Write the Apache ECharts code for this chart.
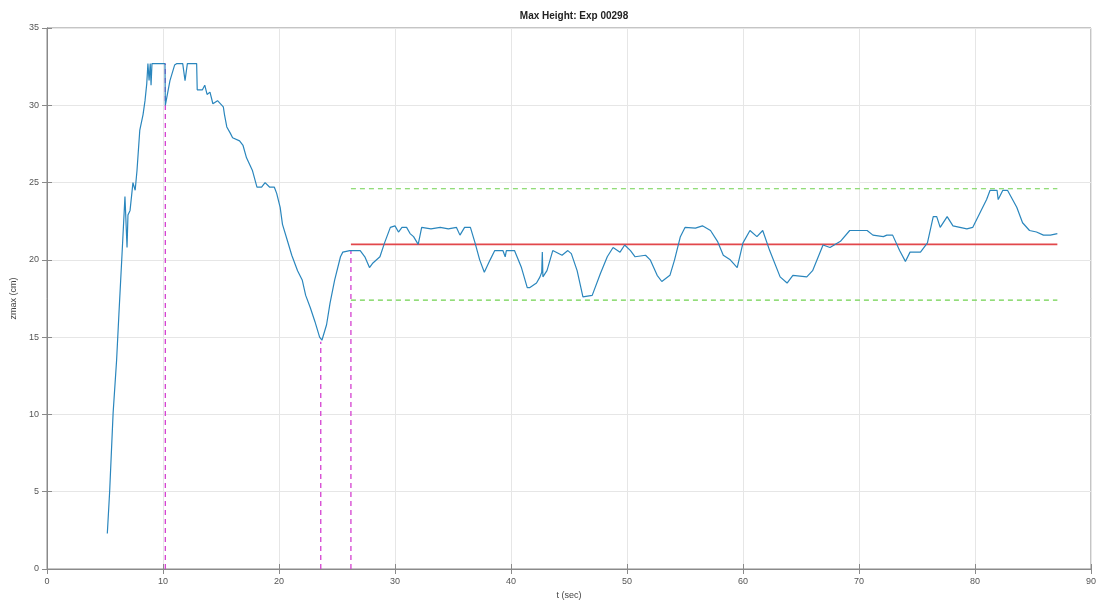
<!DOCTYPE html>
<html>
<head>
<meta charset="utf-8">
<script src="https://cdn.jsdelivr.net/npm/echarts@6/dist/echarts.min.js"></script>
<style>
  html, body { margin: 0; padding: 0; background: #fff; }
  #chart { width: 1104px; height: 611px; }
</style>
</head>
<body>
<div id="chart"></div>
<script>
// Measured max water height over time
const timeSec = [
  5.2, 5.4, 5.7, 6.0, 6.2, 6.47, 6.72, 6.9, 6.98, 7.16, 7.41, 7.6, 7.76, 8.0, 8.28, 8.45, 8.6, 8.7, 8.8, 8.9, 8.97, 9.05, 9.2,
  10.17, 10.2, 10.6, 11.0, 11.2, 11.7, 11.9, 12.1, 12.9, 12.95, 13.4, 13.6, 13.8, 14.05, 14.3, 14.7, 15.2, 15.3, 15.5, 15.8,
  16.0, 16.6, 16.9, 17.2, 17.7, 18.1, 18.5, 18.8, 19.2, 19.6, 19.8, 20.1, 20.3, 20.7, 21.1, 21.6, 22.0, 22.3, 22.7, 23.1,
  23.5, 23.7, 24.1, 24.4, 24.8, 25.3, 25.5, 26.1, 27.0, 27.4, 27.8, 28.1, 28.7, 29.1, 29.6, 30.0, 30.3, 30.6, 31.0, 31.3,
  31.6, 32.0, 32.3, 33.1, 33.9, 34.6, 35.3, 35.6, 36.0, 36.5, 36.9, 37.3, 37.7, 38.2, 38.6, 39.3, 39.5, 39.6, 40.3, 40.9,
  41.4, 41.6, 42.2, 42.5, 42.65, 42.7, 42.75, 43.1, 43.6, 44.4, 44.9, 45.2, 45.7, 46.2, 47.0, 47.7, 48.3, 48.8, 49.4, 49.8,
  50.3, 50.7, 51.6, 52.0, 52.6, 53.0, 53.7, 54.1, 54.6, 55.0, 55.9, 56.5, 57.2, 57.8, 58.3, 58.9, 59.5, 60.0, 60.6, 61.2,
  61.7, 62.3, 63.2, 63.8, 64.3, 65.5, 66.0, 66.9, 67.5, 68.4, 69.2, 70.1, 70.7, 71.2, 72.1, 72.4, 72.9, 73.5, 74.0, 74.4,
  75.3, 75.9, 76.4, 76.7, 77.0, 77.6, 78.1, 79.3, 79.8, 80.4, 81.0, 81.3, 81.9, 82.0, 82.4, 82.8, 83.6, 84.1, 84.7, 85.3,
  85.9, 86.5, 87.1
];
const zmaxCm = [
  2.3, 5.0, 10.1, 13.5, 16.5, 20.4, 24.1, 20.8, 22.9, 23.2, 25.0, 24.5, 25.8, 28.4, 29.4, 30.3, 31.4, 32.7, 31.6, 32.7, 31.3, 32.7, 32.7,
  32.7, 30.0, 31.6, 32.6, 32.7, 32.7, 31.6, 32.7, 32.7, 31.0, 31.0, 31.3, 30.7, 30.85, 30.1, 30.3, 29.9, 29.4, 28.6, 28.2,
  27.9, 27.7, 27.4, 26.6, 25.8, 24.7, 24.7, 25.0, 24.7, 24.7, 24.3, 23.4, 22.3, 21.3, 20.3, 19.3, 18.7, 17.7, 16.9, 16.0,
  15.0, 14.8, 15.8, 17.2, 18.7, 20.2, 20.5, 20.6, 20.6, 20.2, 19.5, 19.8, 20.2, 21.1, 22.1, 22.2, 21.8, 22.1, 22.1, 21.7,
  21.5, 21.0, 22.1, 22.0, 22.1, 22.0, 22.1, 21.6, 22.1, 22.1, 21.1, 20.0, 19.2, 20.0, 20.6, 20.6, 20.2, 20.6, 20.6, 19.5,
  18.2, 18.2, 18.5, 18.9, 19.2, 20.5, 18.9, 19.3, 20.6, 20.3, 20.6, 20.4, 19.3, 17.6, 17.7, 19.1, 20.2, 20.8, 20.5, 20.96,
  20.6, 20.2, 20.3, 20.0, 19.0, 18.6, 19.0, 20.0, 21.5, 22.1, 22.05, 22.2, 21.9, 21.2, 20.3, 20.0, 19.5, 21.1, 21.9, 21.5,
  21.9, 20.6, 18.9, 18.5, 19.0, 18.9, 19.3, 20.96, 20.8, 21.2, 21.9, 21.9, 21.9, 21.6, 21.5, 21.6, 21.6, 20.6, 19.9, 20.5,
  20.5, 21.1, 22.8, 22.8, 22.1, 22.8, 22.2, 22.0, 22.1, 23.0, 23.9, 24.5, 24.5, 23.9, 24.5, 24.5, 23.4, 22.4, 21.9, 21.8,
  21.6, 21.6, 21.7
];

// Event markers (dashed verticals from the axis up to the curve)
const eventTimes = [10.2, 23.6, 26.2];
const eventHeights = [32.7, 14.7, 20.6];

// Steady-state band
const bandStart = 26.2;
const bandEnd = 87.1;
const meanLevel = 21.0;
const upperLevel = 24.6;
const lowerLevel = 17.4;

// Axis ticks
const xTicks = [0, 10, 20, 30, 40, 50, 60, 70, 80, 90];
const yTicks = [0, 5, 10, 15, 20, 25, 30, 35];

const curve = timeSec.map((t, i) => [t, zmaxCm[i]]);

const eventSeries = eventTimes.map((t, i) => ({
  type: 'line',
  data: [[t, 0], [t, eventHeights[i]]],
  symbol: 'none',
  lineStyle: { color: '#d43fd0', width: 1.3, type: [5, 4] },
  z: 3
}));

const bandLine = (level, color, dashed, width) => ({
  type: 'line',
  data: [[bandStart, level], [bandEnd, level]],
  symbol: 'none',
  lineStyle: { color: color, width: width, type: dashed ? [5, 4] : 'solid' },
  z: 2
});

const gridColor = '#e6e6e6';
const axisColor = '#8a8a8a';
const labelStyle = { color: '#555', fontSize: 9, fontFamily: 'Liberation Sans, Arial, sans-serif' };

const chart = echarts.init(document.getElementById('chart'), null, { renderer: 'canvas' });
chart.setOption({
  animation: false,
  backgroundColor: '#fff',
  title: {
    text: 'Max Height: Exp 00298',
    left: 569, top: 6, textAlign: 'center',
    textStyle: { fontSize: 10, fontWeight: 'bold', color: '#222', fontFamily: 'Liberation Sans, Arial, sans-serif' }
  },
  grid: { left: 47, right: 13, top: 28, bottom: 42, show: true, borderColor: axisColor, borderWidth: 1 },
  xAxis: [{
    type: 'value', min: 0, max: 90, interval: 10,
    name: 't (sec)', nameLocation: 'middle', nameGap: 20,
    nameTextStyle: { color: '#444', fontSize: 9, fontFamily: 'Liberation Sans, Arial, sans-serif' },
    axisLine: { show: true, lineStyle: { color: axisColor } },
    axisTick: { show: true, inside: true, length: 5, lineStyle: { color: axisColor } },
    axisLabel: Object.assign({ margin: 8, formatter: v => xTicks.includes(v) ? String(v) : '' }, labelStyle),
    splitLine: { show: true, lineStyle: { color: gridColor, width: 1 } }
  }, {
    type: 'value', min: 0, max: 90, interval: 10, position: 'top',
    axisLine: { show: true, lineStyle: { color: axisColor } },
    axisTick: { show: true, inside: true, length: 5, lineStyle: { color: axisColor } },
    axisLabel: { show: false }, splitLine: { show: false }
  }],
  yAxis: [{
    type: 'value', min: 0, max: 35, interval: 5,
    name: 'zmax (cm)', nameLocation: 'middle', nameGap: 26, nameRotate: 90,
    nameTextStyle: { color: '#444', fontSize: 9, fontFamily: 'Liberation Sans, Arial, sans-serif' },
    axisLine: { show: true, lineStyle: { color: axisColor } },
    axisTick: { show: true, inside: true, length: 5, lineStyle: { color: axisColor } },
    axisLabel: Object.assign({ margin: 8, formatter: v => yTicks.includes(v) ? String(v) : '' }, labelStyle),
    splitLine: { show: true, lineStyle: { color: gridColor, width: 1 } }
  }, {
    type: 'value', min: 0, max: 35, interval: 5, position: 'right',
    axisLine: { show: true, lineStyle: { color: axisColor } },
    axisTick: { show: true, inside: true, length: 5, lineStyle: { color: axisColor } },
    axisLabel: { show: false }, splitLine: { show: false }
  }],
  series: [
    bandLine(upperLevel, '#6fd14e', true, 1.2),
    bandLine(lowerLevel, '#6fd14e', true, 1.2),
    bandLine(meanLevel, '#e2474b', false, 1.6),
    ...eventSeries,
    {
      type: 'line',
      data: curve,
      symbol: 'none',
      lineStyle: { color: '#2a86bd', width: 1.2 },
      z: 4
    }
  ]
});
</script>
</body>
</html>
